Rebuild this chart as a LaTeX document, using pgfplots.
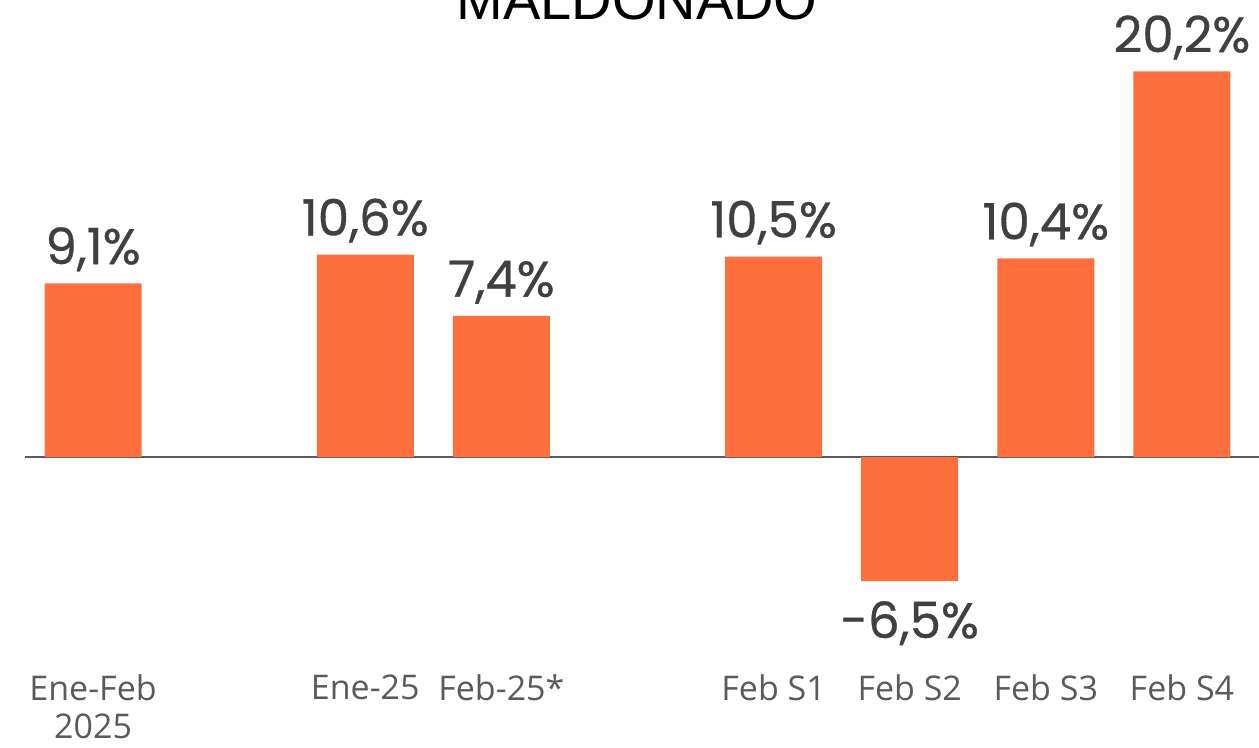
\documentclass[border=0pt]{standalone}
\usepackage{pgfplots}
\pgfplotsset{compat=1.18}
\usepackage{fontspec}
\setmainfont{Open Sans}
\newfontfamily\valfont{Poppins}[FakeBold=0.6]
\newfontfamily\titlefont{Liberation Sans}
\definecolor{barc}{HTML}{FF6F3D}
\definecolor{valc}{HTML}{404040}
\definecolor{tickc}{HTML}{5A5A5A}
\begin{document}
\begin{tikzpicture}
\useasboundingbox (0,0) rectangle (629.5pt,374pt);
\node[anchor=base, inner sep=0pt, font=\titlefont\fontsize{28pt}{30pt}\selectfont] at (318.5pt,364pt) {MALDONADO};
\begin{axis}[at={(12.5pt,50pt)}, anchor=south west, scale only axis,
  width=612.5pt, height=305.5pt,
  xmin=-0.5, xmax=8.5, ymin=-10, ymax=22,
  axis line style={draw=none}, ytick=\empty,
  xtick={0,2,3,5,6,7,8},
  xticklabels={{Ene-Feb\\2025},Ene-25,Feb-25*,Feb S1,Feb S2,Feb S3,Feb S4},
  major tick length=0,
  xticklabel style={align=center, font=\fontsize{17pt}{19pt}\selectfont, text=tickc, yshift=-10pt},
  clip=false]
\addplot[draw=tickc, line width=1pt] coordinates {(-0.5,0) (8.57,0)};
\addplot[ybar, bar width=48.5pt, fill=barc, draw=none,
  point meta=y,
  visualization depends on={y \as \rawy},
  nodes near coords={\pgfmathprintnumber[fixed,fixed zerofill,precision=1,use comma,assume math mode=true]{\pgfplotspointmeta}\%},
  nodes near coords style={font=\valfont\fontsize{25pt}{27pt}\selectfont, text=valc, inner ysep=5.8pt, yshift={ifthenelse(\rawy<0,-4,0)}}]
  coordinates {(0,9.1) (2,10.6) (3,7.4) (5,10.5) (6,-6.5) (7,10.4) (8,20.2)};
\end{axis}
\end{tikzpicture}
\end{document}
